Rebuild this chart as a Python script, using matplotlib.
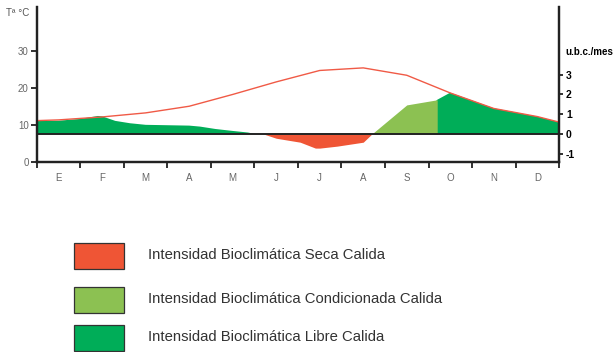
import numpy as np
import matplotlib.pyplot as plt
from matplotlib.patches import Rectangle

plt.rcParams['font.family'] = ['Liberation Sans', 'DejaVu Sans']
plt.rcParams['axes.unicode_minus'] = False

months = ['E', 'F', 'M', 'A', 'M', 'J', 'J', 'A', 'S', 'O', 'N', 'D']

# temperature curve (deg C), positions in months (0 = start of Jan)
temp_pos = np.array([0, 0.5, 1.5, 2.5, 3.5, 4.5, 5.5, 6.5, 7.5, 8.5, 9.5, 10.5, 11.5, 12])
temp_val = np.array([11.2, 11.4, 12.2, 13.3, 15.1, 18.3, 21.7, 24.8, 25.5, 23.5, 18.7, 14.5, 12.3, 10.8])

# bioclimatic intensity curve (u.b.c./mes)
ib_pos = np.array([0, 0.5, 1.0, 1.4, 1.5, 1.8, 2.14, 2.5, 3.5, 3.75, 4.1, 4.5, 4.85, 5.0,
                   5.2, 5.5, 6.05, 6.4, 6.5, 6.9, 7.5, 7.7, 8.5, 9.2, 9.5, 10.5, 11.5, 12])
ib_val = np.array([0.66, 0.67, 0.76, 0.91, 0.89, 0.66, 0.54, 0.46, 0.42, 0.37, 0.25, 0.15, 0.07, 0.0,
                   0.0, -0.22, -0.42, -0.72, -0.72, -0.62, -0.42, 0.0, 1.47, 1.73, 2.09, 1.3, 0.88, 0.6])

# condicionada period
cond_start, cond_end = 7.7, 9.2

legend_labels = ['Intensidad Bioclimática Seca Calida',
                 'Intensidad Bioclimática Condicionada Calida',
                 'Intensidad Bioclimática Libre Calida']
c_seca = '#ef5535'
c_cond = '#8cc152'
c_libre = '#00ad58'
legend_colors = [c_seca, c_cond, c_libre]

fig = plt.figure(figsize=(6.16, 3.52), dpi=100)
ax = fig.add_axes([0.060, 0.540, 0.8475, 0.440])
ax2 = ax.twinx()

ax2.fill_between(ib_pos, 0, ib_val, where=(ib_val >= 0) & ((ib_pos <= cond_start) | (ib_pos >= cond_end)),
                 color=c_libre, lw=0, interpolate=True)
ax2.fill_between(ib_pos, 0, ib_val, where=(ib_pos >= cond_start) & (ib_pos <= cond_end),
                 color=c_cond, lw=0)
ax2.fill_between(ib_pos, 0, ib_val, where=ib_val <= 0, color=c_seca, lw=0, interpolate=True)
ax2.axhline(0, color='#222222', lw=1.4)

ax.plot(temp_pos, temp_val, color='#f05a46', lw=1.0)
ax.set_zorder(ax2.get_zorder() + 1)
ax.patch.set_visible(False)

ax.set_xlim(0, 12)
ax.set_ylim(0, 42)
ax2.set_ylim(-1.42, 6.43)

ax.set_xticks(np.arange(13))
ax.set_xticklabels([])
ax.set_xticks(np.arange(12) + 0.5, minor=True)
ax.set_xticklabels(months, minor=True)
ax.tick_params(axis='x', which='major', direction='out', length=4, width=1.3, color='#222222')
ax.tick_params(axis='x', which='minor', length=0, pad=8, labelsize=7, labelcolor='#666666')

ax.set_yticks([0, 10, 20, 30])
ax.tick_params(axis='y', direction='out', length=4, width=1.3, color='#222222',
               labelsize=7, labelcolor='#666666', pad=2)
ax2.set_yticks([-1, 0, 1, 2, 3])
ax2.tick_params(axis='y', direction='out', length=3, width=1.3, color='#222222',
                labelsize=7.5, labelcolor='black', pad=2)
for lab in ax2.get_yticklabels():
    lab.set_fontweight('bold')

for a in (ax, ax2):
    a.spines['top'].set_visible(False)
    for s in ('left', 'right', 'bottom'):
        a.spines[s].set_linewidth(1.6)
        a.spines[s].set_color('#222222')

fig.text(0.010, 0.963, 'Tª °C', fontsize=7, color='#555555', va='center')
fig.text(0.918, 0.853, 'u.b.c./mes', fontsize=7, fontweight='bold', color='black', va='center')

# legend boxes
box_y = [243, 287, 325]
for y0, col, lab in zip(box_y, legend_colors, legend_labels):
    fig.add_artist(Rectangle((74 / 616, 1 - (y0 + 26) / 352), 50 / 616, 26 / 352,
                             transform=fig.transFigure, facecolor=col, edgecolor='#333333', lw=0.9))
    fig.text(148 / 616, 1 - (y0 + 12) / 352, lab, fontsize=10.7, color='#333333', va='center')

fig.savefig('out.png', dpi=100)
